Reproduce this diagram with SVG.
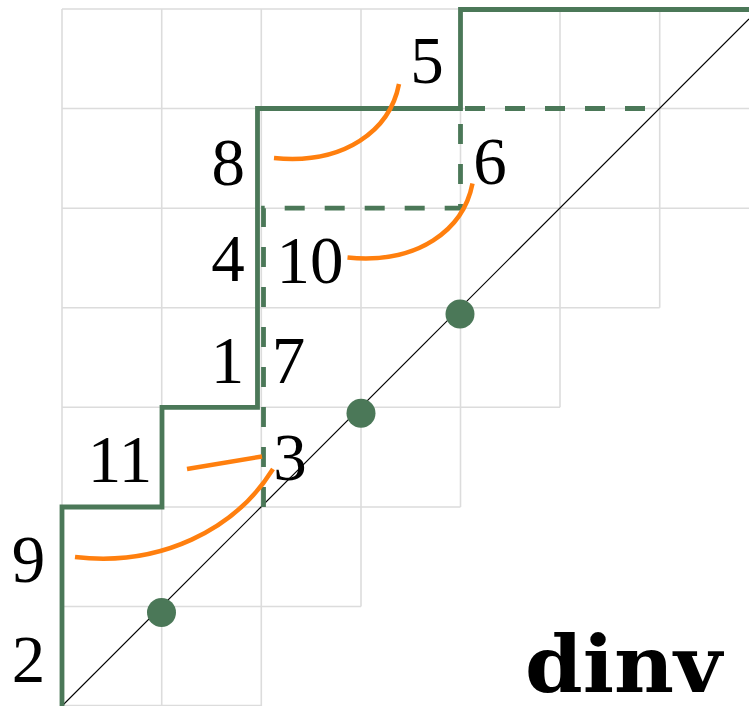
<svg xmlns="http://www.w3.org/2000/svg" width="749" height="706" viewBox="0 0 749 706">
<style>
.grid{stroke:#dcdcdc;stroke-width:1.6;fill:none}
.diag{stroke:#000;stroke-width:1.2;fill:none}
.path{stroke:#4b7858;stroke-width:4.8;fill:none;stroke-linejoin:miter}
.dash{stroke:#4b7858;stroke-width:4.8;fill:none;stroke-dasharray:20 20}
.arc{stroke:#ff7f0e;stroke-width:4.5;fill:none;stroke-linecap:butt}
.dot{fill:#4b7858}
.lbl{font-family:"Liberation Serif","Times New Roman",serif;font-size:67px;fill:#000;text-anchor:middle}
.title{font-family:"DejaVu Serif","Liberation Serif",serif;font-size:78px;font-weight:bold;fill:#000}
</style>
<rect width="749" height="706" fill="#fff"/>
<g id="grid">
<path class="grid" d="M62,9V706 M161.7,9V706 M261.3,9V706 M361,9V606.5 M460.5,9V507 M560,9V407.3 M659.7,9V307.7"/>
<path class="grid" d="M62,9H749 M62,108.5H749 M62,208.2H749 M62,307.7H659.7 M62,407.3H560 M62,507H460.5 M62,606.5H361 M62,705.5H261.3"/>
</g>
<g id="diagonal">
<path class="diag" d="M62,706L749,19"/>
</g>
<g id="connectors">
<path class="dash" d="M263.5,507V208.2H460.5V108.5H660"/>
<path class="path" d="M62,706V507H162V407.3H257.5V108.5H460.5V9.5H749"/>
<path class="arc" d="M399,84C390,130 345,165 274,158"/>
<path class="arc" d="M472.5,183.5C463.5,229.5 418.5,264.5 347.5,257.5"/>
<path class="arc" d="M187,469L262,456.5"/>
<path class="arc" d="M273,469C235,530 160,567 75,557"/>
</g>
<g id="dots">
<circle class="dot" cx="161.5" cy="612.5" r="14.5"/>
<circle class="dot" cx="361" cy="413.3" r="14.5"/>
<circle class="dot" cx="460" cy="314" r="14.5"/>
</g>
<g id="labels">
<text class="lbl" x="427" y="83">5</text>
<text class="lbl" x="228.3" y="184.5">8</text>
<text class="lbl" x="490" y="184">6</text>
<text class="lbl" x="228" y="281">4</text>
<text class="lbl" x="310" y="283">10</text>
<text class="lbl" x="227.5" y="383">1</text>
<text class="lbl" x="288.5" y="383">7</text>
<text class="lbl" x="120" y="482">11</text>
<text class="lbl" x="290" y="480">3</text>
<text class="lbl" x="28.5" y="582">9</text>
<text class="lbl" x="28.5" y="681.5">2</text>
<text class="title" x="525" y="692" textLength="197" lengthAdjust="spacingAndGlyphs">dinv</text>
</g>
</svg>
